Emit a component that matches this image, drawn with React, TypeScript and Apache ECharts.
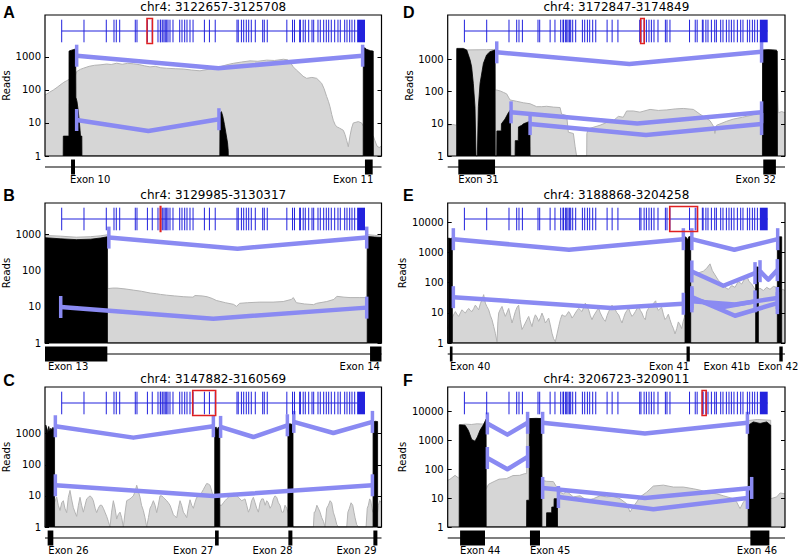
import React, { useEffect, useRef } from "react";
import * as echarts from "echarts";

const FONT = '"DejaVu Sans", "Liberation Sans", sans-serif';
const PURPLE = "#8a8af2";
const BLUE = "#2222dd";
const RED = "#e02020";

// ---------- data ----------
const panelLetters = ["A", "B", "C", "D", "E", "F"];
const regionStarts = [3122657, 3129985, 3147882, 3172847, 3188868, 3206723];
const regionEnds = [3125708, 3130317, 3160569, 3174849, 3204258, 3209011];
const yTopExponents = [4.27, 3.87, 4.5, 4.38, 4.64, 4.84];
const smallTicks = [1, 10, 100, 1000];
const largeTicks = [1, 10, 100, 1000, 10000];

// gene model (genomic coordinates)
const geneBounds = [3075626, 3242936];
const geneLastExon = [3238600, 3242936];
const geneExonStarts = [
  3075626, 3087927, 3100227, 3104475, 3105743, 3107619, 3116224, 3117161, 3122910, 3125581,
  3128745, 3130010, 3130310, 3131338, 3132055, 3132772, 3133544, 3134261, 3135364, 3137019,
  3140715, 3141983, 3143473, 3144741, 3146396, 3148089, 3154346, 3157117, 3160317, 3172322,
  3173020, 3174760, 3176017, 3177451, 3178775, 3180209, 3182416, 3186498, 3187381, 3189020,
  3199817, 3202968, 3204030, 3206890, 3207315, 3208840, 3209996, 3211874, 3213695, 3214629,
  3217001, 3218270, 3220145, 3221580, 3222903, 3224337, 3226213, 3228033, 3229302, 3231729,
  3232998, 3234487, 3235756, 3237245,
];

// Panel A  (x = bp offset from region start, y = reads)
const grayA = [[0,70],[40,85],[76,100],[110,120],[136,140],[170,170],[196,190],[220,210],[242,230],[270,250],[287,360],[320,420],[348,455],[400,520],[450,560],[499,575],[560,610],[600,590],[650,645],[700,600],[750,640],[801,620],[860,580],[900,540],[952,500],[1000,520],[1050,470],[1103,455],[1180,440],[1254,430],[1330,400],[1405,380],[1460,410],[1526,455],[1600,520],[1650,580],[1707,640],[1780,700],[1859,760],[1930,740],[2010,800],[2080,780],[2161,850],[2200,820],[2221,700],[2251,500],[2280,400],[2312,320],[2340,260],[2372,225],[2420,240],[2463,225],[2508,160],[2530,110],[2554,63],[2570,45],[2584,31],[2600,18],[2614,12],[2630,9],[2644,7.7],[2670,7],[2705,6],[2720,4.5],[2735,3],[2750,1.9],[2765,4],[2780,7],[2795,10],[2841,11],[2871,10],[2886,8],[2977,4],[2990,3],[3010,2],[3030,1.8],[3051,2]];
const blackA = [[165,1],[166,4],[217,4],[218,1500],[240,1600],[262,1680],[278,1750],[280,60],[290,45],[300,25],[310,12],[318,6],[322,4],[334,4],[335,1],[1585,1],[1587,20],[1600,22],[1612,16],[1627,9],[1640,5],[1655,2.5],[1661,1.5],[1662,1],[2885,1],[2886,1800],[2900,1900],[2915,1700],[2950,1550],[2976,1500],[2977,1]];
const junctionsA = [[[287,1090],[1571,455],[2880,1090]],[[287,12.3],[937,5.7],[1577,13]]];
const exonsA = [[236,272],[2901,2971]];
const exonLabelsA = ["Exon 10", "Exon 11"];
const exonLabelAnchorsA = [227, 2977];

// Panel B
const grayB = [[0,940],[15,900],[31,840],[45,870],[55,920],[61.5,980],[62,32],[67,33],[71,33],[80,31],[87,29],[95,27],[104,24],[110,23],[114,22],[120,21],[128,20],[137,19],[146,18.5],[148,20.5],[155,20],[160,19],[165,17],[169,15],[178,13],[186,11.7],[189,10.3],[192,12.5],[200,13],[212,13.5],[225,13.5],[235,14],[243,16],[245,18],[248,13],[256,12],[265,11.5],[268,12.5],[278,14],[285,16],[288,19.5],[295,18.5],[301,18],[310,18],[317.4,18],[318,990],[325,950],[332,900]];
const blackB = [[0,815],[15,760],[31,720],[45,740],[55,800],[61.5,860],[61.6,1],[317.9,1],[318,880],[325,850],[332,820]];
const junctionsB = [[[63,820],[190,405],[317.4,820]],[[15.5,9.9],[166,4.7],[317.4,9.5]]];
const exonsB = [[0,61.5],[320.7,332]];
const exonLabelsB = ["Exon 13", "Exon 14"];
const exonLabelAnchorsB = [3, 330.4];

// Panel C
const grayC = [[0,1],[25,1],[440,9.2],[500,5],[566,3.4],[630,6],[691,7],[750,4],[817,2.9],[880,9],[943,15],[1000,8],[1068,4.2],[1130,3],[1194,2.2],[1260,5],[1320,9],[1380,5],[1446,3],[1510,5],[1571,8],[1635,9],[1697,10],[1760,9],[1823,7],[1890,4],[1948,2.9],[2010,4],[2074,5],[2140,5],[2200,4],[2260,3],[2325,2.2],[2390,1.5],[2451,1],[2510,3],[2577,7],[2640,4],[2703,1.8],[2760,2.5],[2828,3],[2890,2],[2954,1],[3020,3],[3080,7],[3140,7.5],[3205,8],[3270,9],[3331,10],[3400,14],[3457,22],[3520,14],[3582,9],[3640,5],[3708,3.4],[3770,2],[3834,1],[3900,2],[3960,4],[4020,5],[4085,7],[4150,5],[4211,2.9],[4270,5],[4337,10],[4400,10],[4462,9],[4520,8],[4588,7],[4650,6],[4714,5],[4780,3.5],[4839,2.5],[4900,2.2],[4965,2],[5030,4],[5091,7],[5150,5],[5217,3],[5280,2.5],[5342,2],[5400,4],[5468,7.5],[5530,5],[5594,4],[5650,6],[5719,9],[5780,9.5],[5845,10],[5910,13],[5971,16],[6030,20],[6096,25],[6160,24],[6222,22],[6290,14],[6348,9],[6400,9],[6600,5],[6662,5],[6725,6],[6788,7],[6850,8],[6913,9],[6976,10],[7039,11],[7100,12],[7165,12],[7230,10],[7291,9],[7350,8],[7416,7],[7480,7.5],[7542,8],[7605,5],[7670,3],[7731,4],[7790,7],[7856,9],[7920,6],[7982,4],[8045,3],[8108,6],[8170,8],[8233,8],[8300,5],[8359,7],[8420,6],[8485,4],[8550,5],[8610,8],[8670,10],[8736,9],[8800,6],[8862,5],[8925,3],[8987,3],[9050,5],[9113,4],[9160,3],[9365,1],[10119,1],[10150,3],[10182,3],[10250,5],[10307,4],[10370,3],[10433,2],[10500,1.5],[10559,1],[10620,4],[10685,5],[10750,7],[10810,6],[10870,3],[10936,2],[11000,1.2],[11062,1],[11376,1],[11420,3],[11476,4],[11540,6],[11602,5],[11650,3],[11690,2],[11750,1.2],[11816,1],[12105,1],[12150,4],[12193,5],[12240,8],[12281,7],[12330,4],[12356,3],[12540,3],[12570,5],[12620,7],[12687,6]];
const blackC = [[25,1],[26,1900],[70,1500],[110,1100],[140,1700],[180,1200],[220,1500],[260,1300],[300,1600],[340,1400],[360,1450],[361,1],[6399,1],[6400,1500],[6450,1650],[6490,1300],[6530,1600],[6590,1550],[6591,1],[9159,1],[9160,1900],[9230,2100],[9290,2000],[9350,2100],[9351,1],[12369,1],[12370,2400],[12450,2500],[12540,2450],[12541,1]];
const junctionsC = [[[390,1730],[3331,745],[6348,1730]],[[6620,1650],[7856,780],[9138,1860]],[[9380,2390],[10873,1050],[12345,2390]],[[390,21.9],[6348,9.9],[12345,21.9]]];
const exonsC = [[100,314],[6411,6549],[9176,9327],[12381,12532]];
const exonLabelsC = ["Exon 26", "Exon 27", "Exon 28", "Exon 29"];
const exonLabelAnchorsC = [126, 6348, 9340, 12507];

// Panel D
const grayD = [[0,9],[30,9.5],[53,9],[54,2000],[83,1960],[150,1980],[230,2000],[281,2050],[282,112],[291,112],[311,105],[330,95],[350,85],[370,55],[409,50],[449,45],[489,42],[528,34],[558,34],[587,35],[627,33],[667,32],[676,20],[706,18],[716,5.5],[746,5],[756,2],[765,1],[825,1],[826,5],[835,7],[904,9],[944,11],[983,12.5],[1013,17],[1042,16],[1062,25],[1102,25],[1141,23],[1201,28],[1250,26],[1300,27],[1350,29],[1398,30],[1458,28],[1497,20],[1557,12.5],[1580,8],[1586,5],[1596,9],[1656,12],[1695,14],[1750,16],[1794,18],[1853,22],[1869,25],[1870,2050],[1952,2000],[1962,22],[1982,24],[2002,22]];
const blackD = [[53,1],[54,2200],[93,2200],[113,1960],[133,960],[142,590],[152,180],[162,34],[168,1],[176,1],[182,34],[192,180],[212,755],[231,1380],[251,1740],[281,1960],[282,1],[291,1],[292,6],[318,6],[319,10],[340,14],[360,22],[372,27],[374,1],[400,1],[401,3],[419,3],[420,8],[440,9],[450,10],[470,11],[488,12],[489,1],[1868,1],[1869,1950],[1900,2000],[1930,1960],[1952,1900],[1956,1800],[1957,1]];
const junctionsD = [[[291,1660],[1078,720],[1863,1740]],[[376,22.7],[1125,10.3],[1863,22.7]],[[489,9.8],[1177,4.5],[1863,9.8]]];
const exonsD = [[63,281],[1873,1948]];
const exonLabelsD = ["Exon 31", "Exon 32"];
const exonLabelAnchorsD = [63, 1948];

// Panel E
const grayE = [[0,3],[100,5],[348,11],[420,9],[500,7.6],[580,10],[652,12.6],[730,11],[805,9.8],[880,12],[957,14],[1030,12],[1109,11],[1190,14],[1261,18],[1340,15],[1413,12.6],[1490,20],[1565,27],[1641,40],[1717,21],[1790,16],[1869,12.6],[1950,8],[2021,5.9],[2100,3.5],[2173,2.1],[2250,1.1],[2290,5],[2326,9.8],[2400,13],[2478,16.3],[2550,11],[2630,7.6],[2700,10],[2782,14],[2860,8],[2934,4.6],[3010,7],[3086,11],[3160,15],[3238,18],[3310,6],[3390,2.8],[3460,3.5],[3542,4.6],[3620,6],[3694,7.6],[3770,5],[3847,3.5],[3920,6],[3999,8.6],[4080,7],[4151,5.2],[4230,7],[4303,9.8],[4380,7],[4455,4.6],[4530,5.5],[4607,6.7],[4680,4],[4759,2.1],[4830,1.4],[4911,1.1],[4990,2],[5063,3.5],[5140,6],[5215,8.6],[5290,8],[5368,7.6],[5440,9],[5520,11],[5600,9],[5672,6.7],[5750,8],[5824,9.8],[5900,12],[5976,14],[6050,12.5],[6128,11],[6200,15],[6280,21],[6360,16],[6432,12.6],[6510,8],[6584,5.9],[6660,8],[6736,9.8],[6810,12],[6889,14],[6960,10],[7041,7.6],[7120,6],[7193,5.2],[7270,8],[7345,11],[7420,14],[7497,18],[7570,15],[7649,12.6],[7720,10],[7801,8.6],[7880,6],[7953,4.6],[8030,7],[8105,9.8],[8180,12],[8257,14],[8330,10],[8410,7.6],[8490,9],[8562,11],[8640,14],[8714,16.3],[8790,12],[8866,9.8],[8940,7],[9018,5.9],[9079,11],[9160,14],[9231,16],[9300,18],[9383,20],[9440,23],[9489,25],[9550,15],[9611,12],[9690,14],[9763,15],[9840,9],[9915,6],[9990,7],[10067,9],[10140,6],[10220,4],[10300,3],[10372,2],[10450,3],[10524,5],[10600,4],[10676,3],[10740,5],[10798,7],[10828,7],[11087,150],[11102,150],[11209,180],[11360,200],[11512,220],[11665,240],[11817,300],[11969,420],[12076,250],[12197,180],[12349,120],[12501,95],[12653,70],[12805,60],[12957,80],[13109,70],[13261,110],[13413,90],[13565,140],[13641,170],[13748,110],[13870,90],[14022,60],[14250,65],[14402,55],[14554,70],[14706,60],[14859,75],[15011,70],[15163,45],[15270,60],[15390,55]];
const blackE = [[28,1],[29,3000],[120,2900],[211,3000],[212,1],[10827,1],[10828,3300],[10900,3100],[10950,2600],[11000,3300],[11087,3400],[11088,1],[14051,1],[14052,330],[14174,330],[14175,1],[15040,1],[15041,3500],[15150,3300],[15239,3300],[15240,1]];
const junctionsE = [[[257,2760],[5535,1230],[10752,2760]],[[11140,2760],[13079,1230],[15056,2760]],[[257,33],[7482,14.4],[10752,20]],[[11140,235],[12577,79],[14022,207]],[[14250,240],[14630,125],[15040,260]],[[11140,33],[13109,8],[15040,21]],[[11140,24],[13109,19],[15040,31]],[[11140,29],[12577,15.5],[14022,24]]];
const exonsE = [[100,220],[10897,11047],[15131,15286]];
const exonLabelsE = ["Exon 40", "Exon 41", "Exon 41b", "Exon 42"];
const exonLabelAnchorsE = [105, 11024, 12731, 14159];

// Panel F
const grayF = [[0,41],[16,45],[50,61],[72,50],[78,50],[79,3400],[120,3600],[160,3500],[200,3700],[240,3600],[260,3800],[261,21],[277,30],[308,36],[348,45],[398,47],[443,60],[488,61],[523,70],[536,70],[537,5500],[600,5600],[638,5700],[639,41],[671,38],[717,37],[739,24],[762,16],[785,14],[807,17],[852,11],[898,12],[943,8.4],[988,9.5],[1033,12],[1078,11],[1124,11.5],[1169,9.5],[1214,6.4],[1237,3.3],[1259,5],[1282,7.3],[1305,11],[1350,16],[1395,26],[1463,28],[1531,24],[1599,24],[1666,21],[1712,18.8],[1779,15],[1825,14],[1870,12],[1938,9.5],[1960,7.3],[1983,4.3],[2006,7.3],[2028,9.5],[2039,10],[2040,4800],[2100,5200],[2191,4900],[2192,9.5],[2232,11],[2255,15],[2288,14]];
const blackF = [[78,1],[79,3400],[118,3300],[140,2200],[163,1060],[185,930],[201,1300],[219,2200],[242,3400],[260,5300],[261,1],[535,1],[536,8.4],[553,8.4],[554,5600],[600,5700],[638,5600],[639,1],[670,1],[671,3.1],[705,3.1],[706,4.9],[721,4.9],[722,9.5],[744,9.5],[745,1],[2038,1],[2039,3300],[2073,4300],[2119,3800],[2164,4300],[2191,3300],[2192,1]];
const junctionsF = [[[269,3800],[405,1560],[542,4000]],[[269,243],[405,99],[542,264]],[[644,4000],[1338,1700],[2033,4000]],[[644,22.4],[1338,10.1],[2062,22.4]],[[751,10.9],[1395,4.1],[2033,10.1]]];
const exonsF = [[84,253],[558,626],[2053,2182]];
const exonLabelsF = ["Exon 44", "Exon 45", "Exon 46"];
const exonLabelAnchorsF = [84, 558, 2098];

// ---------- layout / style ----------
const labelAligns = [
  ["left", "right"],
  ["left", "right"],
  ["left", "right", "right", "right"],
  ["left", "right"],
  ["left", "right", "center", "left"],
  ["left", "left", "center"],
];
const COL_LEFT = [45, 447.7];
const COL_WIDTH = [336.5, 337.3];
const ROW_TOP = [15, 203, 387];
const ROW_HEIGHT = [141, 140, 140];
const GENE_INSET = 16.7;
const GENE_WIDTH = 303.3;
const LETTER_X = [3.3, 403];
const LETTER_Y = [12.5, 195.8, 380.8];

const panels = [
  { gray: grayA, black: blackA, junctions: junctionsA, exons: exonsA, labels: exonLabelsA, anchors: exonLabelAnchorsA, ticks: smallTicks },
  { gray: grayB, black: blackB, junctions: junctionsB, exons: exonsB, labels: exonLabelsB, anchors: exonLabelAnchorsB, ticks: smallTicks },
  { gray: grayC, black: blackC, junctions: junctionsC, exons: exonsC, labels: exonLabelsC, anchors: exonLabelAnchorsC, ticks: smallTicks },
  { gray: grayD, black: blackD, junctions: junctionsD, exons: exonsD, labels: exonLabelsD, anchors: exonLabelAnchorsD, ticks: smallTicks },
  { gray: grayE, black: blackE, junctions: junctionsE, exons: exonsE, labels: exonLabelsE, anchors: exonLabelAnchorsE, ticks: largeTicks },
  { gray: grayF, black: blackF, junctions: junctionsF, exons: exonsF, labels: exonLabelsF, anchors: exonLabelAnchorsF, ticks: largeTicks },
];

const lg = (v: number) => Math.log10(v);

function textStyle(text: string, font: string, align: string) {
  return {
    text,
    font,
    fill: "#000",
    textAlign: align,
    align,
    textVerticalAlign: "middle",
    verticalAlign: "middle",
  };
}

function buildOption() {
  const grid: any[] = [];
  const xAxis: any[] = [];
  const yAxis: any[] = [];
  const series: any[] = [];
  const graphic: any[] = [];

  panels.forEach((p, i) => {
    const col = i < 3 ? 0 : 1;
    const row = i % 3;
    const left = COL_LEFT[col];
    const width = COL_WIDTH[col];
    const top = ROW_TOP[row];
    const height = ROW_HEIGHT[row];
    const start = regionStarts[i];
    const end = regionEnds[i];
    const span = end - start;

    const gi = grid.length;
    grid.push({ left, top, width, height, show: true, borderColor: "#000", borderWidth: 1.2, backgroundColor: "rgba(0,0,0,0)", z: 5, containLabel: false, outerBoundsMode: "none" });
    grid.push({ left: left + GENE_INSET, top: top + 4, width: GENE_WIDTH, height: 24, containLabel: false, outerBoundsMode: "none" });
    grid.push({ left, top: top + height + 3, width, height: 16, containLabel: false, outerBoundsMode: "none" });

    const xi = xAxis.length;
    xAxis.push({ type: "value", gridIndex: gi, min: 0, max: span, show: false });
    xAxis.push({ type: "value", gridIndex: gi + 1, min: geneBounds[0], max: geneBounds[1], show: false });
    xAxis.push({ type: "value", gridIndex: gi + 2, min: 0, max: span, show: false });

    const yi = yAxis.length;
    const exps = p.ticks.map(lg);
    const maxExp = Math.round(exps[exps.length - 1]);
    const tickCfg = { show: true, inside: true, length: 4, customValues: exps, lineStyle: { color: "#000", width: 1 } };
    yAxis.push({
      type: "value", gridIndex: gi, min: 0, max: yTopExponents[i], interval: 1, position: "left", z: 6,
      name: "Reads", nameLocation: "middle", nameGap: 33, nameRotate: 90,
      nameTextStyle: { fontFamily: FONT, fontSize: 10, color: "#000" },
      axisLine: { show: false }, splitLine: { show: false }, axisTick: tickCfg,
      axisLabel: {
        show: true, customValues: exps, margin: 4, fontFamily: FONT, fontSize: 10, color: "#000",
        formatter: (v: number) => {
          const r = Math.round(v);
          if (Math.abs(v - r) > 1e-6 || r > maxExp) return "";
          return String(Math.pow(10, r));
        },
      },
    });
    yAxis.push({
      type: "value", gridIndex: gi, min: 0, max: yTopExponents[i], interval: 1, position: "right", z: 6,
      axisLine: { show: false }, splitLine: { show: false }, axisTick: tickCfg, axisLabel: { show: false },
    });
    yAxis.push({ type: "value", gridIndex: gi + 1, min: 0, max: 1, show: false });
    yAxis.push({ type: "value", gridIndex: gi + 2, min: 0, max: 1, show: false });

    // coverage
    series.push({
      type: "line", xAxisIndex: xi, yAxisIndex: yi, silent: true, symbol: "none", z: 2,
      data: p.gray.map(([x, v]) => [x, lg(v)]),
      lineStyle: { color: "#b3b3b3", width: 1 },
      areaStyle: { color: "#d6d6d6", opacity: 1 },
    });
    series.push({
      type: "line", xAxisIndex: xi, yAxisIndex: yi, silent: true, symbol: "none", z: 3,
      data: p.black.map(([x, v]) => [x, lg(v)]),
      lineStyle: { color: "#000", width: 0.8 },
      areaStyle: { color: "#000", opacity: 1 },
    });

    // junctions
    const caps: number[][] = [];
    p.junctions.forEach((j) => {
      series.push({
        type: "line", xAxisIndex: xi, yAxisIndex: yi, silent: true, symbol: "none", z: 4,
        data: j.map(([x, v]) => [x, lg(v)]),
        lineStyle: { color: PURPLE, width: 4.5, join: "round" },
      });
      caps.push([j[0][0], lg(j[0][1])]);
      caps.push([j[j.length - 1][0], lg(j[j.length - 1][1])]);
    });
    series.push({
      type: "scatter", xAxisIndex: xi, yAxisIndex: yi, silent: true, z: 4,
      symbol: "rect", symbolSize: [3.5, 22], data: caps,
      itemStyle: { color: PURPLE, opacity: 1 },
    });

    // gene model track
    series.push({
      type: "custom", xAxisIndex: xi + 1, yAxisIndex: yi + 2, silent: true, z: 5,
      data: [[geneBounds[0], geneBounds[1], 0.5]], encode: { x: [0, 1], y: 2 },
      renderItem: (_: any, api: any) => {
        const a = api.coord([api.value(0), 0.5]);
        const b = api.coord([api.value(1), 0.5]);
        return { type: "line", shape: { x1: a[0], y1: a[1], x2: b[0], y2: b[1] }, style: { stroke: BLUE, lineWidth: 1.2 } };
      },
    });
    series.push({
      type: "custom", xAxisIndex: xi + 1, yAxisIndex: yi + 2, silent: true, z: 5,
      data: geneExonStarts.map((g) => [g, 0.5]),
      renderItem: (_: any, api: any) => {
        const c = api.coord([api.value(0), 0.5]);
        return { type: "line", shape: { x1: c[0], y1: c[1] - 11.3, x2: c[0], y2: c[1] + 11.3 }, style: { stroke: BLUE, lineWidth: 1 } };
      },
    });
    series.push({
      type: "custom", xAxisIndex: xi + 1, yAxisIndex: yi + 2, silent: true, z: 5,
      data: [[geneLastExon[0], geneLastExon[1], 0.5]], encode: { x: [0, 1], y: 2 },
      renderItem: (_: any, api: any) => {
        const a = api.coord([api.value(0), 0.5]);
        const b = api.coord([api.value(1), 0.5]);
        return { type: "rect", shape: { x: a[0], y: a[1] - 11.3, width: b[0] - a[0], height: 22.6 }, style: { fill: BLUE } };
      },
    });
    series.push({
      type: "custom", xAxisIndex: xi + 1, yAxisIndex: yi + 2, silent: true, z: 6,
      data: [[start, end, 0.5]], encode: { x: [0, 1], y: 2 },
      renderItem: (_: any, api: any) => {
        const a = api.coord([api.value(0), 0.5]);
        const b = api.coord([api.value(1), 0.5]);
        const w = Math.max(b[0] - a[0], 0.6);
        return { type: "rect", shape: { x: a[0], y: a[1] - 12.5, width: w, height: 25 }, style: { fill: "none", stroke: RED, lineWidth: 1.5 } };
      },
    });

    // exon track
    series.push({
      type: "line", xAxisIndex: xi + 2, yAxisIndex: yi + 3, silent: true, symbol: "none", z: 3,
      data: [[0, 0.5], [span, 0.5]], lineStyle: { color: "#000", width: 1.2 },
    });
    series.push({
      type: "custom", xAxisIndex: xi + 2, yAxisIndex: yi + 3, silent: true, z: 4,
      data: p.exons.map(([s, e]) => [s, e, 0.5]), encode: { x: [0, 1], y: 2 },
      renderItem: (_: any, api: any) => {
        const a = api.coord([api.value(0), 1]);
        const b = api.coord([api.value(1), 0]);
        const w = Math.max(b[0] - a[0], 2.5);
        return { type: "rect", shape: { x: a[0], y: a[1] + 0.5, width: w, height: b[1] - a[1] - 1 }, style: { fill: "#000" } };
      },
    });
    const aligns = labelAligns[i];
    series.push({
      type: "custom", xAxisIndex: xi + 2, yAxisIndex: yi + 3, silent: true, z: 4,
      data: p.anchors.map((x) => [x, 0]),
      renderItem: (params: any, api: any) => {
        const c = api.coord([api.value(0), 0]);
        const k = params.dataIndex;
        return { type: "text", x: c[0], y: c[1] + 4, style: textStyle(p.labels[k], `10px ${FONT}`, aligns[k]) };
      },
    });

    // title and panel letter
    graphic.push({ type: "text", x: left + width / 2, y: top - 8.3, silent: true, style: textStyle(`chr4: ${start}-${end}`, `12px ${FONT}`, "center") });
    graphic.push({ type: "text", x: LETTER_X[col], y: LETTER_Y[row], silent: true, style: textStyle(panelLetters[i], 'bold 16px "Liberation Sans", Arial, sans-serif', "left") });
  });

  return { animation: false, backgroundColor: "#fff", grid, xAxis, yAxis, series, graphic };
}

export default function App() {
  const ref = useRef<HTMLDivElement>(null);
  useEffect(() => {
    document.body.style.margin = "0";
    const chart = echarts.init(ref.current!, null, { renderer: "svg" });
    chart.setOption(buildOption() as any);
    return () => chart.dispose();
  }, []);
  return <div ref={ref} style={{ width: 800, height: 555 }} />;
}
